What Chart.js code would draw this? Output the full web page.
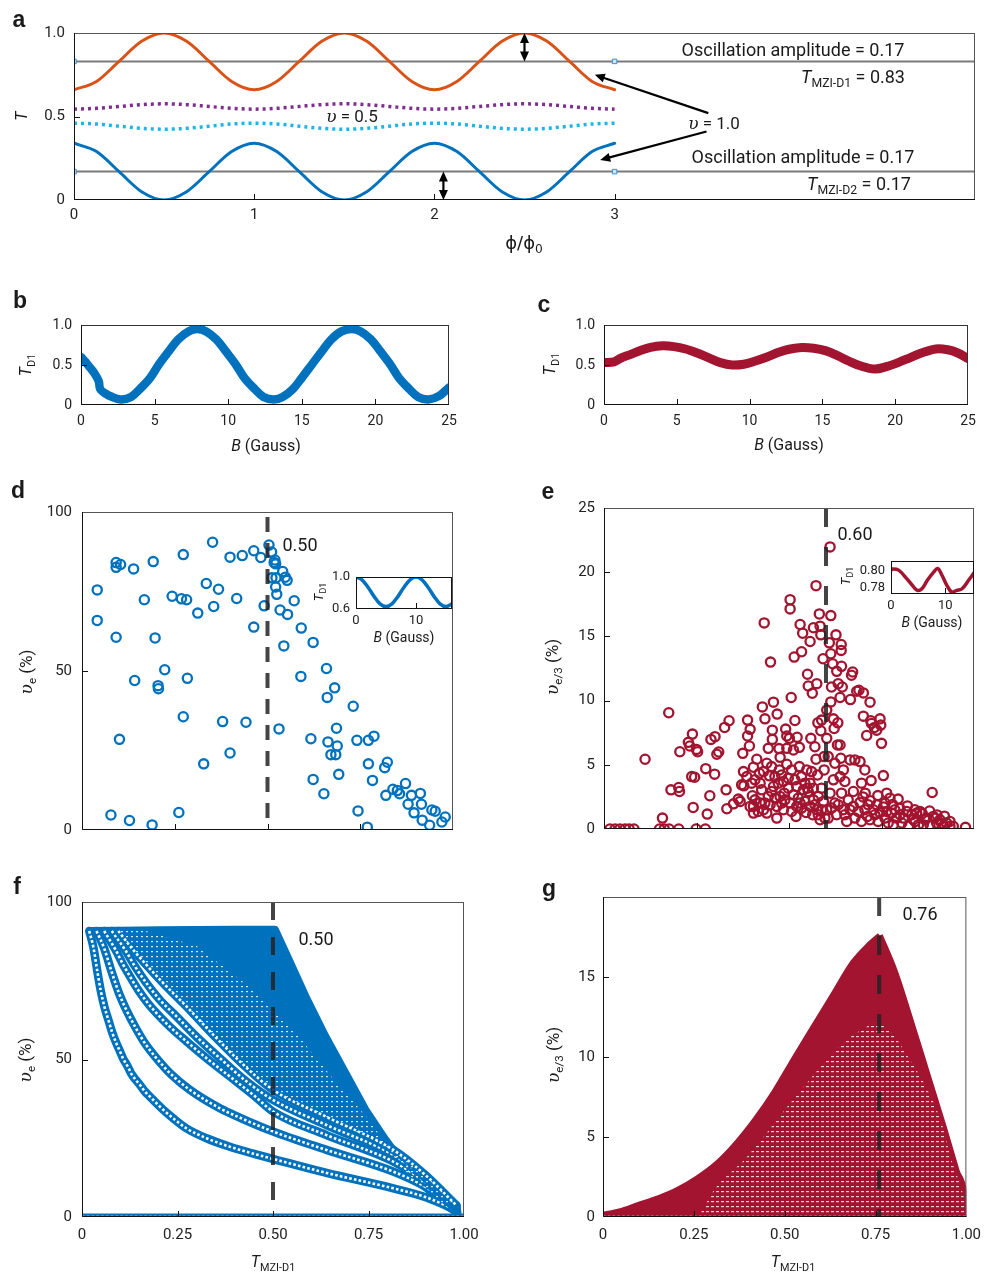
<!DOCTYPE html>
<html>
<head>
<meta charset="utf-8">
<script src="https://cdn.jsdelivr.net/npm/chart.js@4.4.1/dist/chart.umd.min.js"></script>
<style>
  body { margin: 0; background: #fff; }
  #page { position: relative; width: 990px; height: 1273px; overflow: hidden; font-family: Roboto, sans-serif; color: #1a1a1a; }
  canvas { position: absolute; }
  .lb { position: absolute; white-space: nowrap; transform: translate(-50%, -50%); line-height: 1; }
  .rot { transform: translate(-50%, -50%) rotate(-90deg); }
  .pl { font-family: "Liberation Sans", Arial, sans-serif; font-weight: bold; }
  .u { font-family: "DejaVu Serif", "Liberation Serif", serif; font-style: italic; }
  .phi { font-family: "DejaVu Sans", sans-serif; }
  sub { font-size: 0.68em; vertical-align: -0.35em; line-height: 0; }
</style>
</head>
<body>
<div id="page"></div>
<script>
// ---- panel a: T vs phi/phi0 ----
const phi = [0,0.125,0.25,0.375,0.5,0.625,0.75,0.875,1,1.125,1.25,1.375,1.5,1.625,1.75,1.875,2,2.125,2.25,2.375,2.5,2.625,2.75,2.875,3];
const tOrange = [0.66,0.71,0.83,0.95,1.00,0.95,0.83,0.71,0.66,0.71,0.83,0.95,1.00,0.95,0.83,0.71,0.66,0.71,0.83,0.95,1.00,0.95,0.83,0.71,0.66];
const tBlue = [0.34,0.29,0.17,0.05,0.00,0.05,0.17,0.29,0.34,0.29,0.17,0.05,0.00,0.05,0.17,0.29,0.34,0.29,0.17,0.05,0.00,0.05,0.17,0.29,0.34];
const tPurple = [0.544,0.549,0.560,0.571,0.576,0.571,0.560,0.549,0.544,0.549,0.560,0.571,0.576,0.571,0.560,0.549,0.544,0.549,0.560,0.571,0.576,0.571,0.560,0.549,0.544];
const tCyan = [0.460,0.455,0.442,0.429,0.424,0.429,0.442,0.455,0.460,0.455,0.442,0.429,0.424,0.429,0.442,0.455,0.460,0.455,0.442,0.429,0.424,0.429,0.442,0.455,0.460];
const refSpan = [0, 5];
const refLevels = [0.83, 0.17];
const markerPhi = [0, 3];

// ---- panels b, c: T_D1 vs B ----
const bB = [0,0.3,0.6,0.9,1.2,1.3,1.6,2.0,2.7,3.4,4.0,4.7,5.3,6.0,6.6,7.3,7.9,8.5,9.2,9.8,10.5,11.1,11.8,12.4,13.1,13.7,14.4,15.0,15.7,16.4,17.0,17.7,18.4,19.0,19.7,20.3,21.0,21.6,22.3,22.9,23.6,24.3,25.0];
const bT = [0.60,0.54,0.47,0.40,0.30,0.20,0.15,0.11,0.07,0.10,0.20,0.34,0.51,0.68,0.82,0.92,0.95,0.92,0.82,0.68,0.51,0.34,0.20,0.10,0.07,0.10,0.20,0.34,0.51,0.68,0.82,0.92,0.95,0.92,0.82,0.68,0.51,0.34,0.20,0.10,0.07,0.11,0.22];
const cB = [0,0.7,1.2,1.8,2.5,3.2,4.0,4.8,5.6,6.4,7.2,8.0,8.8,9.6,10.4,11.2,12.0,12.8,13.6,14.4,15.2,16.0,16.8,17.6,18.6,19.4,20.2,21.0,21.8,22.8,23.6,24.3,25.0];
const cT = [0.53,0.54,0.59,0.63,0.68,0.72,0.74,0.73,0.70,0.65,0.59,0.53,0.50,0.51,0.55,0.60,0.66,0.70,0.72,0.71,0.68,0.62,0.55,0.49,0.45,0.48,0.53,0.59,0.65,0.70,0.69,0.65,0.58];

// ---- panel d: measured visibility (e) ----
const dX = [0.041,0.041,0.092,0.092,0.104,0.092,0.101,0.078,0.128,0.139,0.142,0.168,0.192,0.197,0.205,0.206,0.189,0.223,0.243,0.268,0.282,0.273,0.273,0.284,0.261,0.312,0.328,0.335,0.352,0.355,0.368,0.379,0.399,0.399,0.417,0.432,0.442,0.463,0.463,0.482,0.491,0.504,0.511,0.520,0.522,0.518,0.512,0.523,0.522,0.525,0.531,0.534,0.541,0.548,0.553,0.554,0.544,0.572,0.591,0.590,0.623,0.617,0.623,0.652,0.659,0.661,0.663,0.671,0.681,0.686,0.688,0.684,0.692,0.731,0.741,0.744,0.769,0.772,0.787,0.772,0.783,0.816,0.823,0.819,0.838,0.850,0.856,0.872,0.879,0.888,0.895,0.912,0.915,0.917,0.937,0.943,0.952,0.970,0.979];
const dY = [75.5,65.9,84.1,82.6,83.5,60.6,28.5,4.7,3.0,82.1,47.0,72.4,84.4,60.4,45.4,44.4,1.6,50.4,73.5,72.7,72.4,86.6,35.6,47.7,5.5,68.2,20.8,77.5,90.5,70.3,75.7,34.1,85.8,24.2,72.8,86.3,33.9,87.8,63.8,85.7,70.5,89.6,87.4,84.9,83.7,84.1,79.3,79.3,76.4,74.1,31.8,69.2,81.3,79.5,78.5,67.8,57.9,72.1,63.5,48.3,59.0,28.7,15.9,11.4,50.8,41.7,27.7,23.7,44.7,32.0,26.4,23.7,17.5,38.9,28.2,6.0,0.9,28.2,29.5,20.8,15.6,19.6,21.3,10.9,12.8,12.4,11.4,14.6,8.1,10.9,5.4,11.5,8.1,3.1,1.5,6.3,5.9,2.5,4.1];
const dMark = 0.5;
const insDB = [0,1,2,3,4,5,6,7,8,9,10,11,12,13,14,15,16];
const insDT = [1.0,0.965,0.872,0.758,0.665,0.63,0.665,0.758,0.872,0.965,1.0,0.965,0.872,0.758,0.665,0.63,0.665];

// ---- panel e: measured visibility (e/3) ----
const eX = [0.016,0.030,0.043,0.057,0.068,0.081,0.150,0.163,0.176,0.202,0.249,0.274,
  0.111,0.175,0.158,0.181,0.202,0.204,0.205,0.228,0.232,0.239,0.250,0.253,0.237,0.245,0.241,0.275,0.279,0.286,0.289,0.299,0.300,0.305,0.310,0.326,0.338,0.330,0.332,0.350,0.363,0.375,0.377,0.378,0.368,0.388,0.395,0.388,0.393,0.404,0.399,0.401,0.404,0.413,0.420,0.428,0.433,0.435,0.444,0.440,
  0.447,0.450,0.455,0.455,0.458,0.468,0.467,0.473,0.476,0.474,0.458,0.444,0.431,0.422,0.404,0.485,0.491,0.494,0.501,0.494,0.494,0.485,0.487,0.503,0.503,0.506,0.512,0.516,0.507,0.516,
  0.519,0.522,0.528,0.521,0.530,0.537,0.534,0.514,0.528,0.539,0.530,0.550,0.552,0.557,0.563,0.566,0.570,0.559,0.575,0.582,0.584,0.586,0.573,0.578,0.577,0.557,0.548,0.566,0.575,0.588,
  0.586,0.573,0.592,0.595,0.595,0.588,0.584,0.597,0.611,0.613,0.609,0.613,0.602,0.602,0.606,0.611,0.615,0.618,0.613,0.620,0.622,0.627,0.629,0.633,0.631,0.624,0.620,0.624,0.632,0.638,
  0.638,0.640,0.641,0.641,0.642,0.644,0.638,0.647,0.651,0.642,0.647,0.656,0.660,0.665,0.666,0.669,0.672,0.674,0.678,0.674,0.683,0.689,0.692,0.692,0.696,0.701,0.701,0.705,0.706,0.710,
  0.712,0.719,0.721,0.722,0.728,0.723,0.731,0.737,0.746,0.748,0.750,0.746,0.755,0.755,0.764,0.773,0.777,0.782,0.795,0.791,0.805,0.818,0.823,0.832,0.841,0.854,0.863,0.872,0.887,0.890,0.899,0.908,0.917,0.926,0.935,0.944,0.977,
  0.395,0.408,0.417,0.426,0.435,0.440,0.449,0.453,0.462,0.467,0.476,0.480,0.489,0.498,0.503,0.507,0.512,0.525,0.534,0.543,0.546,0.552,0.557,0.564,0.570,0.579,0.579,0.588,0.593,0.602,0.606,0.615,0.629,0.633,0.651,0.665,0.678,0.687,0.696,0.705,0.714,0.719,0.732,0.737,0.741,0.759,0.764,0.768,0.786,0.800,0.809,0.836,0.845,0.850,0.868,0.881,0.894,0.912,0.935,
  0.372,0.386,0.408,0.422,0.431,0.453,0.462,0.471,0.480,0.498,0.521,0.534,0.543,0.550,0.561,0.566,0.70,0.72,0.74,0.76,0.78,0.80,0.82,0.84,0.86,0.88,0.90,0.92];
const eY = [0,0,0,0,0,0,0,0,0,0,0,0,
  5.43,9.05,0.85,3.05,3.23,2.92,6.02,6.75,6.46,7.39,6.2,6.02,4.08,4.03,1.68,4.7,1.16,2.59,6.98,4.27,7.19,5.82,6.0,7.91,8.43,3.05,1.58,1.96,2.33,5.89,4.47,3.36,2.15,8.48,7.76,7.24,6.46,4.81,3.57,2.59,1.76,5.43,4.34,9.51,16.05,8.58,6.28,5.12,
  4.14,13.0,7.7,6.98,9.88,8.95,0.85,6.26,5.58,4.6,3.31,2.53,1.5,2.02,1.24,1.5,7.78,7.24,7.06,6.28,5.04,3.7,2.79,17.86,17.14,10.24,6.15,8.45,4.6,3.83,
  0.98,7.14,6.36,1.76,15.93,15.25,13.8,13.39,4.86,3.05,2.02,12.05,11.14,14.6,10.57,15.67,6.41,7.06,11.32,16.75,15.8,15.12,5.43,8.27,4.21,3.57,4.6,2.27,1.5,8.48,
  7.65,18.95,13.26,5.64,4.6,3.18,0.72,0.85,21.97,16.62,14.5,13.65,9.26,7.06,5.64,2.79,11.06,12.87,9.9,8.58,7.83,15.12,12.28,11.32,6.54,5.12,3.83,2.02,8.27,10.24,
  6.54,5.51,14.37,13.91,12.67,11.06,4.08,4.6,3.7,2.79,1.5,0.59,2.27,5.38,10.08,11.97,12.23,2.92,5.38,1.76,10.73,10.81,5.25,2.07,3.57,10.6,8.79,4.6,2.79,7.29,
  0.98,9.88,8.43,3.77,1.5,8.22,7.91,7.7,8.58,8.09,6.67,1.29,4.16,1.71,2.79,2.4,1.24,0.34,2.33,0.85,0.47,1.37,0.21,1.11,0.59,1.37,0.34,0.85,2.84,0.98,0.47,0.72,0.21,0.47,0.59,0.21,0.13,
  1.76,2.27,1.37,3.05,2.02,1.24,1.89,2.92,2.4,1.76,2.53,2.02,2.27,3.18,2.02,1.37,2.66,2.4,1.63,2.15,1.29,2.92,1.76,1.11,1.89,2.53,1.11,1.5,2.15,1.5,0.85,1.63,1.11,1.89,1.11,1.5,0.85,1.37,0.59,1.5,1.89,0.72,1.11,1.89,0.59,0.85,1.37,0.47,1.5,1.11,0.85,0.72,1.24,0.34,0.72,0.34,0.85,0.47,0.21,
  3.44,4.08,3.83,3.57,4.47,4.86,4.08,3.57,4.21,3.96,3.31,4.08,3.57,3.18,4.47,3.18,2.5,2.2,2.6,2.0,1.9,1.6,1.8,1.5,1.2,1.4,1.1,1.0];
const eMark = 0.6;
const insEB = [0,0.2,1.4,2.9,4.2,4.9,5.7,6.7,7.9,8.6,9.4,10.3,11.2,12.1,13.1,14.3,15.3];
const insET = [0.801,0.8024,0.8012,0.7912,0.7812,0.7772,0.7792,0.7892,0.7992,0.8032,0.7952,0.7832,0.7752,0.7772,0.7792,0.7892,0.7980];

// ---- panel f: simulated visibility (e) ----
const f1X = [0.019,0.030,0.040,0.049,0.059,0.070,0.079,0.089,0.099,0.108,0.120,0.130,0.141,0.152,0.165,0.178,0.195,0.213,0.239,0.274,0.326,0.387,0.449,0.501,0.64,0.815,0.90,0.98];
const f1Y = [90.8,85.5,78.1,71.9,66.6,62.2,58.6,55.4,52.7,50.2,47.7,45.3,43.5,41.9,39.8,38.2,36.1,34.0,31.3,28.1,25.0,22.3,20.1,18.4,14.0,9.1,6.3,2.2];
const f2X = [0.038,0.058,0.078,0.097,0.117,0.139,0.165,0.195,0.235,0.283,0.361,0.414,0.501,0.64,0.815,0.90,0.98];
const f2Y = [90.8,85.3,77.7,71.0,65.5,60.4,55.1,50.4,45.1,40.3,34.5,31.5,27.1,21.3,14.4,9.5,2.8];
const f3X = [0.058,0.088,0.106,0.126,0.147,0.169,0.195,0.230,0.274,0.326,0.387,0.449,0.501,0.64,0.815,0.90,0.98];
const f3Y = [90.8,84.8,80.5,76.3,72.1,68.4,64.7,60.4,55.7,50.4,44.6,38.7,33.4,26.0,17.6,11.0,3.2];
const f4X = [0.078,0.113,0.139,0.169,0.204,0.248,0.300,0.361,0.431,0.501,0.64,0.815,0.90,0.98];
const f4Y = [90.8,84.8,79.5,74.2,68.9,63.6,57.2,50.4,43.0,37.1,29.2,19.7,12.2,3.5];
const f5X = [0.095,0.134,0.169,0.213,0.274,0.344,0.414,0.501,0.64,0.815,0.90,0.98];
const f5Y = [90.8,84.8,80.0,74.2,66.8,57.8,49.3,40.3,31.8,21.3,13.2,3.7];
const fEnvX = [0.019,0.10,0.20,0.30,0.40,0.505,0.54,0.585,0.637,0.69,0.742,0.795,0.847,0.899,0.952,0.983];
const fEnvY = [90.8,90.9,91.0,91.1,91.2,91.2,82,70,57.3,45.6,34,24.4,15.9,9.6,3.7,1.4];
const fTexX = [0.16,0.30,0.45,0.55,0.65,0.75,0.85,0.95];
const fTexY = [91,86,72,60,45,31,14,3.8];
const fMark = 0.5;

// ---- panel g: simulated visibility (e/3) ----
const gRiseX = [0,0.045,0.098,0.152,0.205,0.259,0.313,0.366,0.420,0.473,0.527,0.580,0.634,0.688,0.732,0.762];
const gRiseY = [0.14,0.35,0.76,1.17,1.69,2.41,3.33,4.57,6.11,7.86,9.92,11.9,13.9,15.9,17.0,17.6];
const gFallX = [0.762,0.804,0.848,0.893,0.938,0.973,0.996,1.0];
const gFallY = [17.6,15.3,12.2,8.9,5.6,2.9,1.3,0.25];
const gTexRiseX = [0.27,0.305,0.394,0.483,0.573,0.662,0.747];
const gTexRiseY = [0.3,1.67,3.7,6.2,8.7,10.9,12.2];
const gTexFallX = [0.747,0.792,0.84,0.885,0.93,0.96,0.99,1.0];
const gTexFallY = [12.2,11.6,10.0,8.3,6.0,3.5,1.5,0.4];
const gMark = 0.76;
const zeroSpan = [0, 1];

const BLUE = '#0072BD', RED = '#A2142F';
Chart.defaults.font.family = 'Roboto';

const page = document.getElementById('page');
const P = (xs, ys) => xs.map((x, i) => ({x: x, y: ys[i]}));

function label(html, x, y, size, cls) {
  const d = document.createElement('div');
  d.className = 'lb ' + (cls || '');
  d.style.left = x + 'px';
  d.style.top = y + 'px';
  d.style.fontSize = size + 'px';
  d.innerHTML = html;
  page.appendChild(d);
}

function makeCanvas(x, y, w, h) {
  const c = document.createElement('canvas');
  c.width = w; c.height = h;
  c.style.left = x + 'px'; c.style.top = y + 'px';
  c.style.width = w + 'px'; c.style.height = h + 'px';
  page.appendChild(c);
  return c;
}

function pattern(color, w, h, dw, dh) {
  const c = document.createElement('canvas');
  c.width = w; c.height = h;
  const g = c.getContext('2d');
  g.fillStyle = color;
  g.fillRect(1, 1, dw, dh);
  return g.createPattern(c, 'repeat');
}

function arrow(ctx, x1, y1, x2, y2, both) {
  const a = Math.atan2(y2 - y1, x2 - x1), L = 10, W = 4.5;
  const head = (x, y, ang) => {
    ctx.beginPath();
    ctx.moveTo(x, y);
    ctx.lineTo(x - L * Math.cos(ang) + W * Math.sin(ang), y - L * Math.sin(ang) - W * Math.cos(ang));
    ctx.lineTo(x - L * Math.cos(ang) - W * Math.sin(ang), y - L * Math.sin(ang) + W * Math.cos(ang));
    ctx.closePath();
    ctx.fill();
  };
  ctx.beginPath();
  ctx.moveTo(x1 + (both ? 6 * Math.cos(a) : 0), y1 + (both ? 6 * Math.sin(a) : 0));
  ctx.lineTo(x2 - 6 * Math.cos(a), y2 - 6 * Math.sin(a));
  ctx.stroke();
  head(x2, y2, a);
  if (both) head(x1, y1, a + Math.PI);
}

// frame, inward ticks and extras
function deco(cfg) {
  return {
    id: 'deco',
    beforeDatasetsDraw(chart) {
      if (!cfg.bg) return;
      const a = chart.chartArea, ctx = chart.ctx;
      ctx.save();
      ctx.fillStyle = cfg.bg;
      ctx.fillRect(a.left, a.top, a.right - a.left, a.bottom - a.top);
      ctx.restore();
    },
    afterDatasetsDraw(chart) {
      const {ctx, chartArea: a, scales} = chart;
      ctx.save();
      ctx.lineWidth = 1;
      ctx.strokeStyle = cfg.frame || '#666';
      ctx.strokeRect(a.left + 0.5, a.top + 0.5, a.right - a.left - 1, a.bottom - a.top - 1);
      ctx.strokeStyle = '#111';
      ctx.beginPath();
      ctx.moveTo(a.left + 0.5, a.top);
      ctx.lineTo(a.left + 0.5, a.bottom - 0.5);
      ctx.lineTo(a.right, a.bottom - 0.5);
      (cfg.xt || []).forEach(v => {
        const p = Math.round(scales.x.getPixelForValue(v)) + 0.5;
        ctx.moveTo(p, a.bottom); ctx.lineTo(p, a.bottom - 6);
      });
      (cfg.yt || []).forEach(v => {
        const p = Math.round(scales.y.getPixelForValue(v)) + 0.5;
        ctx.moveTo(a.left, p); ctx.lineTo(a.left + 6, p);
      });
      ctx.stroke();
      if (cfg.after) cfg.after(chart);
      ctx.restore();
    }
  };
}

function makeChart(box, area, datasets, sx, sy, cfg) {
  const [cx, cy, w, h] = box, [L, T, R, B] = area;
  const cv = makeCanvas(cx, cy, w, h);
  const axis = (s, isX) => ({
    type: 'linear', min: s.min, max: s.max,
    grid: {display: false, drawTicks: false}, border: {display: false},
    ticks: {display: s.show !== false, autoSkip: false, maxRotation: 0, padding: s.pad || 8, color: '#222',
            font: {family: 'Roboto', size: s.size || 15}, callback: s.fmt || (v => String(v))},
    afterBuildTicks: sc => { sc.ticks = s.ticks.map(v => ({value: v})); },
    afterFit: sc => { if (isX) sc.height = cy + h - B; else sc.width = L - cx; }
  });
  return new Chart(cv, {
    type: 'line',
    data: {datasets: datasets},
    options: {
      responsive: false, animation: false, events: [],
      layout: {padding: {top: T - cy, right: cx + w - R, left: 0, bottom: 0}},
      plugins: {legend: {display: false}, tooltip: {enabled: false}},
      elements: {point: {radius: 0}, line: {tension: 0}},
      scales: {x: axis(sx, true), y: axis(sy, false)}
    },
    plugins: [deco(cfg || {})]
  });
}

function lineDs(xs, ys, color, width, extra) {
  return Object.assign({data: P(xs, ys), borderColor: color, borderWidth: width, pointRadius: 0, fill: false,
    tension: 0.35, borderCapStyle: 'round', borderJoinStyle: 'round'}, extra || {});
}
function dots(xs, ys, color, r) {
  return {data: P(xs, ys), showLine: false, pointRadius: r || 4.6, pointBorderWidth: 2.3,
    pointBorderColor: color, pointBackgroundColor: 'rgba(0,0,0,0)'};
}
function tube(xs, ys, color, w) {
  const m = {cubicInterpolationMode: 'monotone'};
  return [lineDs(xs, ys, '#fff', 2.6, Object.assign({borderDash: [2.6, 2.2], borderCapStyle: 'butt'}, m)),
          lineDs(xs, ys, color, w || 8.5, m)];
}
function shape(xs, ys, bg, edge, bw, extra) {
  return Object.assign({data: P(xs, ys), fill: 'shape', backgroundColor: bg, borderColor: edge || 'rgba(0,0,0,0)',
    borderWidth: bw || 0, pointRadius: 0, tension: 0, borderJoinStyle: 'round'}, extra || {});
}
function area(xs, ys, bg, edge, bw) {
  return {data: P(xs, ys), fill: 'origin', backgroundColor: bg, borderColor: edge || 'rgba(0,0,0,0)',
    borderWidth: bw || 0, pointRadius: 0, cubicInterpolationMode: 'monotone', borderJoinStyle: 'round'};
}
function vline(x, top, dash) {
  return {data: [{x: x, y: top}, {x: x, y: 0}], borderColor: 'rgba(35,35,35,0.85)', borderWidth: 4,
    borderDash: dash, pointRadius: 0, fill: false, borderCapStyle: 'butt'};
}
const fmt1 = v => v === 0 ? '0' : v.toFixed(1);
const fmt2 = v => v === 0 ? '0' : v.toFixed(2);

// ===== panel a =====
makeChart([0, 0, 990, 265], [74, 33, 975, 200], [
  dots(markerPhi, [refLevels[0], refLevels[0]], '#3d8fcf', 3.2),
  dots(markerPhi, [refLevels[1], refLevels[1]], '#3d8fcf', 3.2),
  lineDs(phi, tOrange, '#D95319', 3, {cubicInterpolationMode: 'monotone'}),
  lineDs(phi, tBlue, BLUE, 3, {cubicInterpolationMode: 'monotone'}),
  lineDs(phi, tPurple, '#7E2F8E', 3.5, {cubicInterpolationMode: 'monotone', borderDash: [3, 4], borderCapStyle: 'butt'}),
  lineDs(phi, tCyan, '#1DB4EA', 3.5, {cubicInterpolationMode: 'monotone', borderDash: [3, 4], borderCapStyle: 'butt'}),
  lineDs(refSpan, [refLevels[0], refLevels[0]], '#7a7a7a', 2, {tension: 0}),
  lineDs(refSpan, [refLevels[1], refLevels[1]], '#7a7a7a', 2, {tension: 0})
].map((d, i) => i < 2 ? Object.assign(d, {pointStyle: 'rect', pointBorderWidth: 1, pointBackgroundColor: '#cfe6f7'}) : d),
  {min: 0, max: 5, ticks: [0, 1, 2, 3], pad: 6},
  {min: 0, max: 1, ticks: [0, 0.5, 1], fmt: fmt1, pad: 9},
  {xt: [1, 2, 3], yt: [0.5], frame: '#555', after: chart => {
    const {ctx, scales: {x, y}} = chart;
    ctx.strokeStyle = '#000'; ctx.fillStyle = '#000'; ctx.lineWidth = 2.2;
    arrow(ctx, x.getPixelForValue(2.5), y.getPixelForValue(0.83), x.getPixelForValue(2.5), y.getPixelForValue(1.0), true);
    arrow(ctx, x.getPixelForValue(2.05), y.getPixelForValue(0.0), x.getPixelForValue(2.05), y.getPixelForValue(0.17), true);
    arrow(ctx, x.getPixelForValue(3.52), y.getPixelForValue(0.52), x.getPixelForValue(2.89), y.getPixelForValue(0.75), false);
    arrow(ctx, x.getPixelForValue(3.51), y.getPixelForValue(0.41), x.getPixelForValue(2.92), y.getPixelForValue(0.24), false);
  }});

// ===== panels b, c =====
makeChart([0, 300, 480, 140], [81, 325, 449, 405], [lineDs(bB, bT, BLUE, 8.5)],
  {min: 0, max: 25, ticks: [0, 5, 10, 15, 20, 25], size: 14, pad: 8},
  {min: 0, max: 1, ticks: [0, 0.5, 1], fmt: fmt1, size: 14, pad: 9},
  {xt: [5, 10, 15, 20], yt: [0.5], frame: '#333'});
makeChart([500, 300, 490, 140], [604, 325, 968, 405], [lineDs(cB, cT, RED, 9)],
  {min: 0, max: 25, ticks: [0, 5, 10, 15, 20, 25], size: 14, pad: 8},
  {min: 0, max: 1, ticks: [0, 0.5, 1], fmt: fmt1, size: 14, pad: 9},
  {xt: [5, 10, 15, 20], yt: [0.5], frame: '#333'});

// ===== panel d =====
makeChart([0, 490, 480, 370], [82, 512, 453, 830], [
  vline(dMark, 98.4, [15, 11]),
  dots(dX, dY, BLUE)
], {min: 0, max: 1, ticks: [0.25, 0.5, 0.75], show: false},
   {min: 0, max: 100, ticks: [0, 50, 100], pad: 10},
   {xt: [0.25, 0.5, 0.75], yt: [50], frame: '#555'});
makeChart([300, 560, 170, 70], [356, 577, 452, 609], [lineDs(insDB, insDT, BLUE, 3.5)],
  {min: 0, max: 16, ticks: [0, 10], size: 13, pad: 4},
  {min: 0.6, max: 1.0, ticks: [0.6, 1.0], fmt: fmt1, size: 13, pad: 6},
  {xt: [10], bg: '#fff', frame: '#111'});

// ===== panel e =====
makeChart([520, 490, 470, 360], [604, 507, 974, 829], [
  vline(eMark, 25, [19, 20]),
  dots(eX, eY, RED)
], {min: 0, max: 1, ticks: [0.25, 0.5, 0.75], show: false},
   {min: 0, max: 25, ticks: [0, 5, 10, 15, 20, 25], pad: 9},
   {xt: [0.25, 0.5, 0.75], yt: [5, 10, 15, 20], frame: '#555'});
makeChart([820, 545, 170, 70], [891, 561, 974, 594], [lineDs(insEB, insET, RED, 3.5)],
  {min: 0, max: 15.3, ticks: [0, 10], size: 13, pad: 4},
  {min: 0.773, max: 0.812, ticks: [0.78, 0.80], fmt: fmt2, size: 13, pad: 6},
  {xt: [10], bg: '#fff', frame: '#111'});

// ===== panel f =====
const fDots = pattern('rgba(255,255,255,0.85)', 5, 5, 2, 1.2);
makeChart([0, 880, 490, 393], [82, 902, 464, 1217], [
  vline(fMark, 100, [18, 17]),
  ...tube(zeroSpan, [0, 0], BLUE, 7),
  shape(fTexX.concat(f5X.slice().reverse()), fTexY.concat(f5Y.slice().reverse()), fDots),
  ...tube(f5X, f5Y, BLUE),
  ...tube(f4X, f4Y, BLUE),
  ...tube(f3X, f3Y, BLUE),
  ...tube(f2X, f2Y, BLUE),
  ...tube(f1X, f1Y, BLUE),
  shape(fEnvX.concat(f5X.slice().reverse()), fEnvY.concat(f5Y.slice().reverse()), BLUE, BLUE, 8)
], {min: 0, max: 1, ticks: [0, 0.25, 0.5, 0.75, 1], fmt: fmt2, pad: 9},
   {min: 0, max: 100, ticks: [0, 50, 100], pad: 10},
   {xt: [0.25, 0.5, 0.75], yt: [50], frame: '#555'});

// ===== panel g =====
const gDots = pattern('rgba(255,255,255,0.8)', 5, 5, 3, 1.2);
const gPeak = gRiseX.length - 1;
makeChart([500, 880, 490, 393], [603, 893, 976, 1217], [
  vline(gMark, 20, [19, 20]),
  ...tube(zeroSpan, [0, 0], RED, 7),
  area(gTexRiseX, gTexRiseY, gDots),
  area(gTexFallX, gTexFallY, gDots),
  lineDs([gRiseX[gPeak], gRiseX[gPeak]], [0, gRiseY[gPeak]], RED, 3, {tension: 0, borderCapStyle: 'butt'}),
  area(gRiseX, gRiseY, RED, RED, 6),
  area(gFallX, gFallY, RED, RED, 6)
], {min: 0, max: 1, ticks: [0, 0.25, 0.5, 0.75, 1], fmt: fmt2, pad: 9},
   {min: 0, max: 20, ticks: [0, 5, 10, 15], pad: 8},
   {xt: [0.25, 0.5, 0.75], yt: [5, 10, 15], frame: '#555'});

// ===== text =====
const U = '<span class="u">&#965;</span>';
label('a', 19, 19, 23, 'pl');
label('<i>T</i>', 22, 116, 16, 'rot');
label('<span class="phi">&#981;/&#981;<sub>0</sub></span>', 524, 243, 18);
label('Oscillation amplitude = 0.17', 793, 50, 18);
label('<i>T</i><sub>MZI-D1</sub> = 0.83', 853, 77, 18);
label(U + ' = 1.0', 714, 123, 17);
label('Oscillation amplitude = 0.17', 803, 157, 18);
label('<i>T</i><sub>MZI-D2</sub> = 0.17', 859, 184, 18);
label(U + ' = 0.5', 352, 116, 17);

label('b', 20, 300, 23, 'pl');
label('<i>T</i><sub>D1</sub>', 26, 365, 16, 'rot');
label('<i>B</i> (Gauss)', 266, 446, 16);
label('c', 544, 304, 23, 'pl');
label('<i>T</i><sub>D1</sub>', 550, 364, 16, 'rot');
label('<i>B</i> (Gauss)', 789, 445, 16);

label('d', 18, 490, 23, 'pl');
label(U + '<sub>e</sub> (%)', 26, 672, 17, 'rot');
label('0.50', 300, 545, 18);
label('<i>T</i><sub>D1</sub>', 318, 592, 13, 'rot');
label('<i>B</i> (Gauss)', 404, 637, 14);

label('e', 548, 491, 23, 'pl');
label(U + '<sub>e/3</sub> (%)', 552, 667, 17, 'rot');
label('0.60', 855, 534, 18);
label('<i>T</i><sub>D1</sub>', 845, 576, 13, 'rot');
label('<i>B</i> (Gauss)', 932, 622, 14);

label('f', 17, 886, 23, 'pl');
label(U + '<sub>e</sub> (%)', 25, 1060, 17, 'rot');
label('0.50', 316, 939, 18);
label('<i>T</i><sub>MZI-D1</sub>', 273, 1262, 16);

label('g', 549, 888, 23, 'pl');
label(U + '<sub>e/3</sub> (%)', 553, 1055, 17, 'rot');
label('0.76', 920, 914, 18);
label('<i>T</i><sub>MZI-D1</sub>', 793, 1262, 16);
</script>
</body>
</html>
